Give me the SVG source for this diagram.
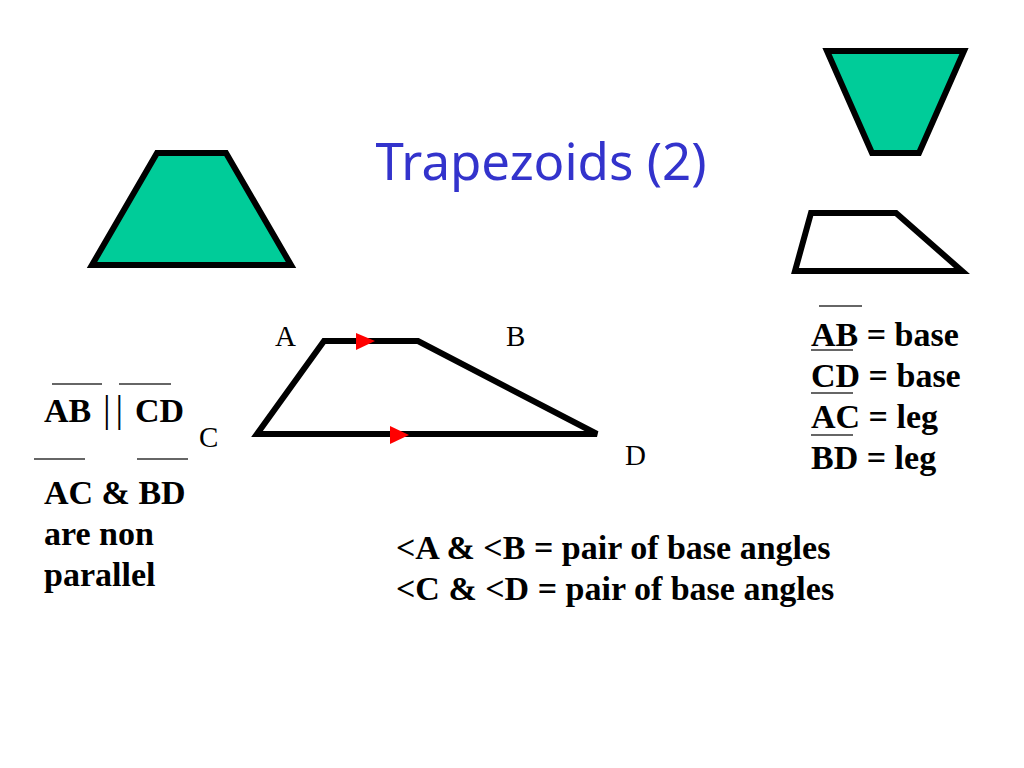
<svg xmlns="http://www.w3.org/2000/svg" width="1024" height="768" viewBox="0 0 1024 768">
<style>
.shape{stroke:#000;stroke-width:6;stroke-linejoin:miter}
.green{fill:#00CC99}
.open{fill:none}
.bar{stroke:#333;stroke-width:1.5}
.lbl{font-family:"Liberation Serif",serif;font-size:29px;fill:#000}
.txt{font-family:"Liberation Serif",serif;font-size:34px;font-weight:bold;fill:#000}
.title{font-family:"Noto Sans","Open Sans",sans-serif;font-size:51px;fill:#3333CC}
.arrow{fill:#FF0000}
</style>
<rect width="1024" height="768" fill="#fff"/>
<text class="title" x="541" y="180" text-anchor="middle">Trapezoids (2)</text>
<g id="green-trapezoid">
<polygon class="shape green" points="157,153 226,153 291,265 92,265"/>
</g>
<g id="inverted-trapezoid">
<polygon class="shape green" points="827,51 964,51 919,153 872,153"/>
</g>
<g id="small-trapezoid">
<polygon class="shape open" points="811,213 896,213 962,271 795,271"/>
</g>
<g id="main-trapezoid">
<polygon class="shape open" points="324,341 418,341 597,434 257,434"/>
<polygon class="arrow" points="356,333 375,341 356,350"/>
<polygon class="arrow" points="390,426 409,435 390,444"/>
</g>
<g id="vertex-labels">
<text class="lbl" x="275" y="346">A</text>
<text class="lbl" x="506" y="346">B</text>
<text class="lbl" x="199" y="447">C</text>
<text class="lbl" x="625" y="465">D</text>
</g>
<g id="left-notes">
<line class="bar" x1="52" y1="384" x2="102" y2="384"/>
<line class="bar" x1="119" y1="384" x2="171" y2="384"/>
<text class="txt" x="44" y="422">AB</text>
<text x="103" y="422" font-family="Liberation Serif,serif" font-size="38" letter-spacing="5">||</text>
<text class="txt" x="135" y="422">CD</text>
<line class="bar" x1="34" y1="459" x2="85" y2="459"/>
<line class="bar" x1="137" y1="459" x2="188" y2="459"/>
<text class="txt" x="44" y="504">AC &amp; BD</text>
<text class="txt" x="44" y="545">are non</text>
<text class="txt" x="44" y="586">parallel</text>
</g>
<g id="right-notes">
<line class="bar" x1="819" y1="306" x2="862" y2="306"/>
<text class="txt" x="811" y="346">AB = base</text>
<line class="bar" x1="811" y1="350" x2="853" y2="350"/>
<text class="txt" x="811" y="387">CD = base</text>
<line class="bar" x1="811" y1="393" x2="853" y2="393"/>
<text class="txt" x="811" y="428">AC = leg</text>
<line class="bar" x1="811" y1="435" x2="853" y2="435"/>
<text class="txt" x="811" y="469">BD = leg</text>
</g>
<g id="angle-notes">
<text class="txt" x="396" y="559">&lt;A &amp; &lt;B = pair of base angles</text>
<text class="txt" x="396" y="600">&lt;C &amp; &lt;D = pair of base angles</text>
</g>
</svg>
